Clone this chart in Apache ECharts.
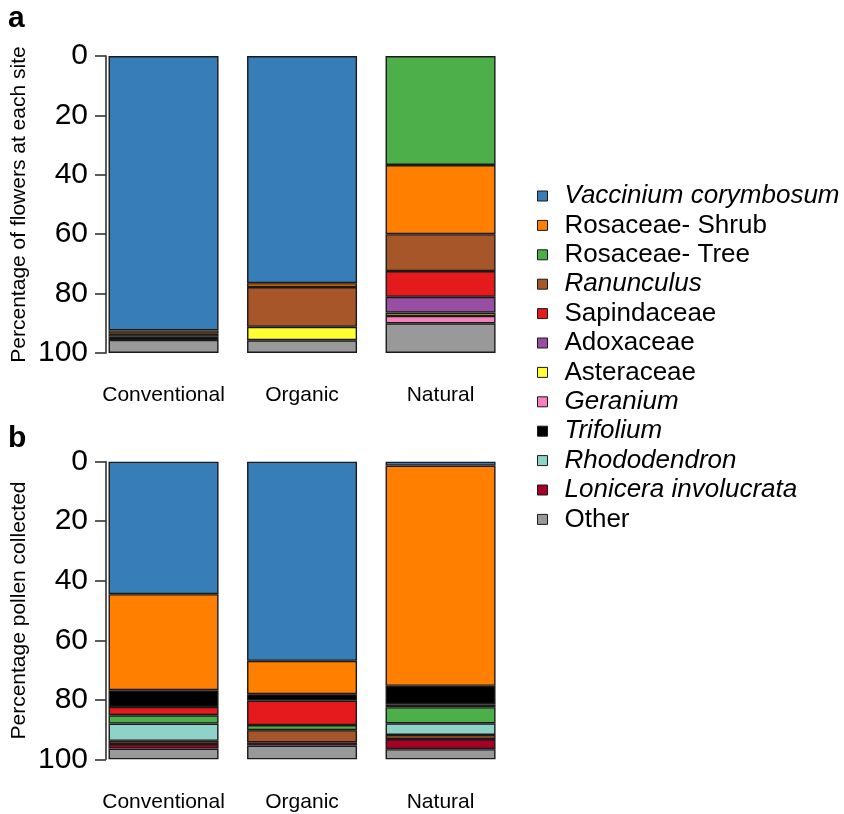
<!DOCTYPE html>
<html>
<head>
<meta charset="utf-8">
<script src="https://cdn.jsdelivr.net/npm/echarts@6/dist/echarts.min.js"></script>
<style>html,body{margin:0;padding:0;background:#fff}#c{width:844px;height:814px}</style>
</head>
<body>
<div id="c"></div>
<script>
const categories = ['Conventional', 'Organic', 'Natural'];
const yTicks = [0, 20, 40, 60, 80, 100];

const legendNames = ['Vaccinium corymbosum', 'Rosaceae- Shrub', 'Rosaceae- Tree', 'Ranunculus', 'Sapindaceae', 'Adoxaceae', 'Asteraceae', 'Geranium', 'Trifolium', 'Rhododendron', 'Lonicera involucrata', 'Other'];
const italicNames = ['Vaccinium corymbosum', 'Ranunculus', 'Geranium', 'Trifolium', 'Rhododendron', 'Lonicera involucrata'];
const colors = {
  'Vaccinium corymbosum': '#377EB8', 'Rosaceae- Shrub': '#FF7F00', 'Rosaceae- Tree': '#4DAF4A',
  'Ranunculus': '#A65628', 'Sapindaceae': '#E41A1C', 'Adoxaceae': '#984EA3', 'Asteraceae': '#FFFF33',
  'Geranium': '#F781BF', 'Trifolium': '#000000', 'Rhododendron': '#8DD3C7', 'Lonicera involucrata': '#A50026',
  'Other': '#999999'
};

// Panel a: percentage of flowers at each site (stack order top to bottom)
const flowersOrder = ['Vaccinium corymbosum', 'Rosaceae- Tree', 'Rosaceae- Shrub', 'Ranunculus', 'Sapindaceae', 'Adoxaceae', 'Asteraceae', 'Geranium', 'Trifolium', 'Other'];
const flowersVaccinium = [92.4, 76.5, 0];
const flowersTree = [0, 0, 36.7];
const flowersShrub = [1.1, 1.3, 23.3];
const flowersRanunculus = [1.0, 13.4, 12.4];
const flowersSapindaceae = [0, 0, 8.7];
const flowersAdoxaceae = [0, 0, 5.3];
const flowersAsteraceae = [0, 4.5, 1.1];
const flowersGeranium = [0, 0, 2.5];
const flowersTrifolium = [1.1, 0, 0];
const flowersOther = [4.4, 4.3, 10.0];

// Panel b: percentage pollen collected (stack order top to bottom)
const pollenOrder = ['Vaccinium corymbosum', 'Rosaceae- Shrub', 'Trifolium', 'Sapindaceae', 'Rosaceae- Tree', 'Rhododendron', 'Ranunculus', 'Lonicera involucrata', 'Other'];
const pollenVaccinium = [44.5, 66.9, 1.3];
const pollenShrub = [32.3, 11.2, 74.0];
const pollenTrifolium = [5.6, 2.2, 6.2];
const pollenSapindaceae = [2.8, 8.2, 1.0];
const pollenTree = [2.8, 1.7, 5.4];
const pollenRhododendron = [5.8, 0, 3.9];
const pollenRanunculus = [1.1, 4.1, 1.4];
const pollenLonicera = [1.5, 1.1, 3.4];
const pollenOther = [3.6, 4.6, 3.4];

const flowersData = [flowersVaccinium, flowersTree, flowersShrub, flowersRanunculus, flowersSapindaceae, flowersAdoxaceae, flowersAsteraceae, flowersGeranium, flowersTrifolium, flowersOther];
const pollenData = [pollenVaccinium, pollenShrub, pollenTrifolium, pollenSapindaceae, pollenTree, pollenRhododendron, pollenRanunculus, pollenLonicera, pollenOther];

const FONT = 'Liberation Sans, Arial, sans-serif';

function makeSeries(order, data, idx, stack) {
  return order.map((name, i) => ({
    name: name,
    type: 'bar',
    stack: stack,
    xAxisIndex: idx,
    yAxisIndex: idx,
    barWidth: 110,
    data: data[i].map(v => v === 0 ? '-' : v),
    itemStyle: { color: colors[name], borderColor: '#1a1a1a', borderWidth: 1.4 },
    emphasis: { disabled: true }
  }));
}

const gridLeft = 94.3, gridWidth = 415.5;
function xAxis(idx) {
  return {
    type: 'category', gridIndex: idx, data: categories,
    axisLine: { show: false }, axisTick: { show: false },
    axisLabel: { fontSize: 21, color: '#000', fontFamily: FONT, margin: 32, interval: 0 }
  };
}
function yAxis(idx, name) {
  return {
    type: 'value', gridIndex: idx, min: 0, max: 100, interval: 20, inverse: true,
    offset: -11.7,
    name: name, nameLocation: 'middle', nameGap: 76,
    nameTextStyle: { fontSize: 21, color: '#000', fontFamily: FONT },
    axisLine: { show: true, lineStyle: { color: '#333', width: 1.6 } },
    axisTick: { show: true, length: 11, lineStyle: { color: '#333', width: 1.6 } },
    axisLabel: { fontSize: 30, color: '#000', fontFamily: FONT, margin: 18,
      customValues: yTicks },
    splitLine: { show: false }
  };
}

const chart = echarts.init(document.getElementById('c'), null, { renderer: 'canvas' });
chart.setOption({
  animation: false,
  backgroundColor: '#fff',
  textStyle: { fontFamily: FONT },
  grid: [
    { left: gridLeft, width: gridWidth, top: 56, height: 297 },
    { left: gridLeft, width: gridWidth, top: 461.7, height: 297.6 }
  ],
  xAxis: [xAxis(0), xAxis(1)],
  yAxis: [yAxis(0, 'Percentage of flowers at each site'), yAxis(1, 'Percentage pollen collected')],
  legend: {
    orient: 'vertical', left: 532, top: 178,
    data: legendNames,
    icon: 'rect', itemWidth: 10, itemHeight: 10, itemGap: 3.4,
    itemStyle: { borderColor: '#1a1a1a', borderWidth: 1 },
    selectedMode: false,
    formatter: n => italicNames.includes(n) ? '{i|' + n + '}' : '{n|' + n + '}',
    textStyle: {
      rich: {
        i: { fontSize: 26, fontStyle: 'italic', color: '#000', fontFamily: FONT, padding: [0, 0, 0, 12] },
        n: { fontSize: 26, color: '#000', fontFamily: FONT, padding: [0, 0, 0, 12] }
      }
    }
  },
  graphic: [
    { type: 'text', left: 8, top: 4, style: { text: 'a', font: 'bold 30px ' + FONT, fill: '#000' } },
    { type: 'text', left: 8, top: 424, style: { text: 'b', font: 'bold 30px ' + FONT, fill: '#000' } }
  ],
  series: makeSeries(flowersOrder, flowersData, 0, 'flowers').concat(makeSeries(pollenOrder, pollenData, 1, 'pollen'))
});
</script>
</body>
</html>
